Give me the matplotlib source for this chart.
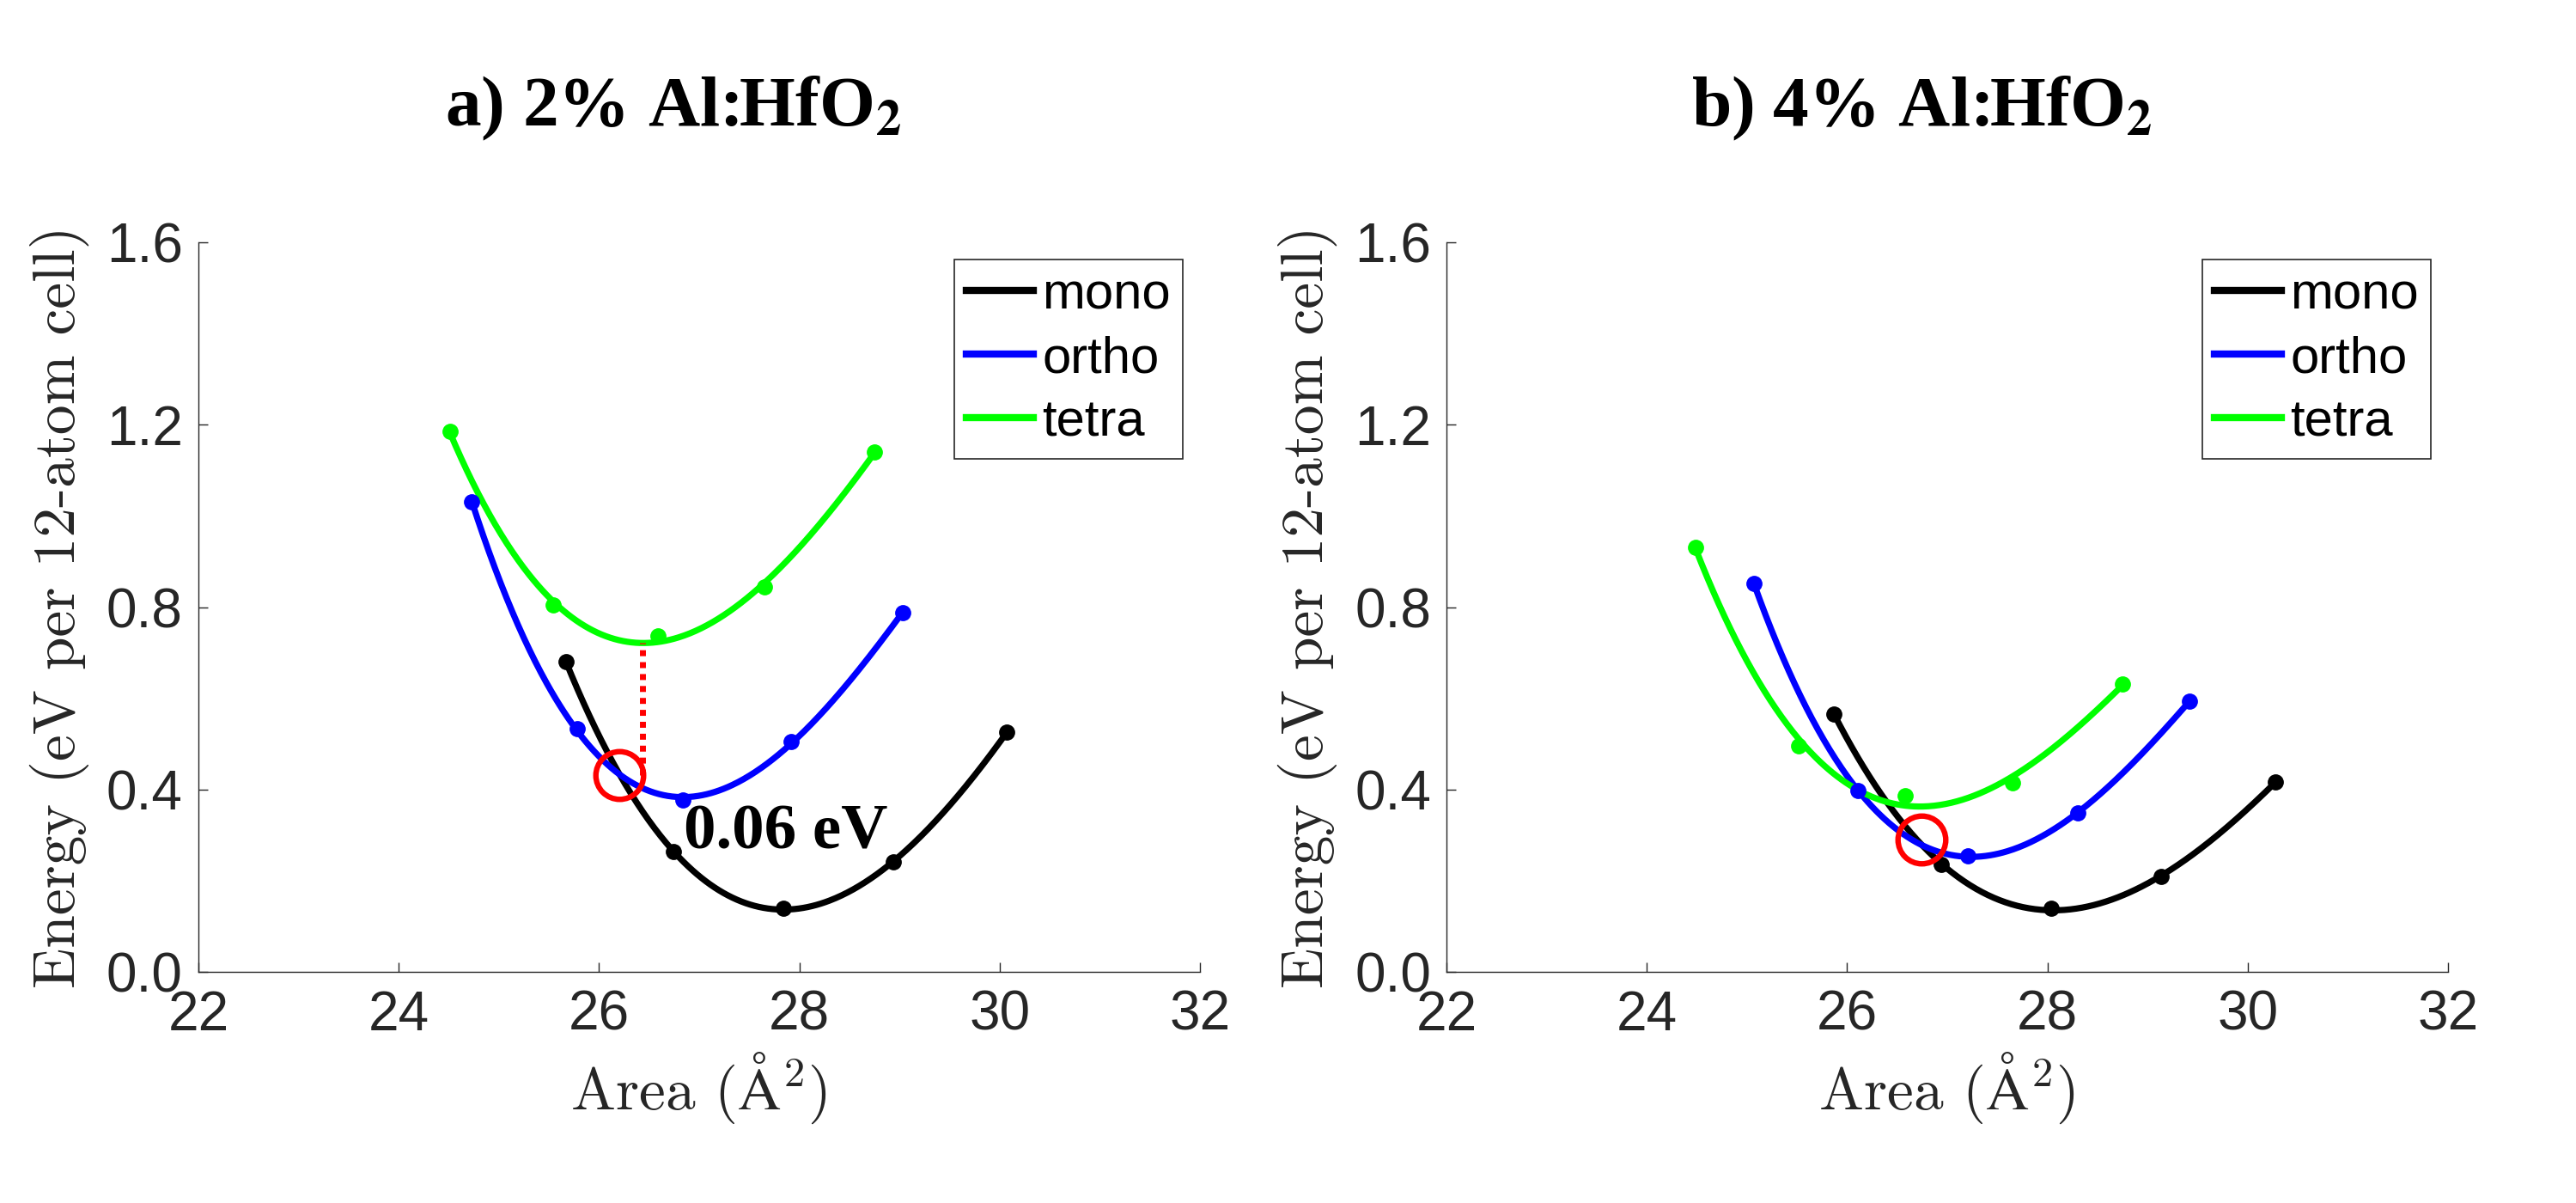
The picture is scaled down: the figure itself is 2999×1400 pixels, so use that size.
import numpy as np
import matplotlib
matplotlib.use('Agg')
import matplotlib.pyplot as plt
from matplotlib.lines import Line2D

plt.rcParams['font.family'] = ['Liberation Sans', 'DejaVu Sans']

# panel a) 2% Al:HfO2 -- area (A^2) and energy (eV per 12-atom cell)
mono_x_a = [25.67, 26.74, 27.84, 28.94, 30.07]
mono_e_a = [0.681, 0.264, 0.139, 0.241, 0.525]
ortho_x_a = [24.73, 25.78, 26.84, 27.92, 29.03]
ortho_e_a = [1.031, 0.534, 0.377, 0.505, 0.787]
tetra_x_a = [24.51, 25.54, 26.59, 27.65, 28.75]
tetra_e_a = [1.186, 0.804, 0.737, 0.844, 1.140]

# panel b) 4% Al:HfO2
mono_x_b = [25.87, 26.94, 28.04, 29.14, 30.28]
mono_e_b = [0.566, 0.235, 0.139, 0.209, 0.417]
ortho_x_b = [25.07, 26.11, 27.21, 28.30, 29.42]
ortho_e_b = [0.852, 0.397, 0.254, 0.348, 0.594]
tetra_x_b = [24.49, 25.52, 26.58, 27.65, 28.75]
tetra_e_b = [0.931, 0.495, 0.387, 0.414, 0.632]

# mono/ortho crossing points (red circles)
cross_a = (26.2, 0.432)
cross_b = (26.74, 0.29)

gap_label = '0.06 eV'
gap_pos = (26.85, 0.305)

titles = [r'a) 2% Al:HfO$_\mathbf{2}$', r'b) 4% Al:HfO$_\mathbf{2}$']
names = ['mono', 'ortho', 'tetra']
colors = ['black', (0, 0, 1), (0, 1, 0)]

gray = '#262626'

fig = plt.figure(figsize=(29.99, 14), dpi=100)
ax_a = fig.add_axes([0.0770, 0.1921, 0.3888, 0.6064])
ax_b = fig.add_axes([0.5615, 0.1921, 0.3888, 0.6064])

panels = [
    (ax_a, [(mono_x_a, mono_e_a), (ortho_x_a, ortho_e_a), (tetra_x_a, tetra_e_a)], cross_a, titles[0]),
    (ax_b, [(mono_x_b, mono_e_b), (ortho_x_b, ortho_e_b), (tetra_x_b, tetra_e_b)], cross_b, titles[1]),
]

for ax, series, cross, title in panels:
    fits = []
    for (x, e), c in zip(series, colors):
        p = np.polyfit(x, e, 3)
        xs = np.linspace(min(x), max(x), 300)
        fits.append((xs, np.polyval(p, xs)))
        ax.plot(xs, np.polyval(p, xs), color=c, lw=5.2, zorder=3, solid_capstyle='round')
        ax.plot(x, e, 'o', color=c, ms=12.5, zorder=4)

    ax.plot([cross[0]], [cross[1]], 'o', mfc='none', mec='red', mew=4.6, ms=40, zorder=6)

    ax.set_xlim(22, 32)
    ax.set_ylim(0, 1.6)
    ax.set_xticks(np.arange(22, 33, 2))
    ax.set_yticks(np.arange(0, 1.61, 0.4))
    ax.set_yticklabels(['%.1f' % v for v in np.arange(0, 1.61, 0.4)])
    ax.tick_params(direction='in', length=8, width=1.0, colors=gray, labelsize=46)
    ax.tick_params(axis='y', pad=13)
    ax.tick_params(axis='x', pad=15)
    for s in ['top', 'right']:
        ax.spines[s].set_visible(False)
    for s in ['left', 'bottom']:
        ax.spines[s].set_color(gray)
        ax.spines[s].set_linewidth(1.0)

    ax.set_ylabel('Energy (eV per 12-atom cell)', family='cmr10', fontsize=50, color=gray, labelpad=14)
    ax.set_xlabel(r'Area ($\mathrm{\AA}^2$)', family='cmr10',
                  math_fontfamily='cm', fontsize=50, color=gray, labelpad=8)

    ax.text(0.474, 1.16, title, transform=ax.transAxes, ha='center', va='baseline',
            family='Liberation Serif', weight='bold', fontsize=60, math_fontfamily='stix')

    handles = [Line2D([0], [0], color=c, lw=6) for c in colors]
    leg = ax.legend(handles, names, loc='upper right', fontsize=43, fancybox=False,
                    edgecolor=gray, framealpha=1, handlelength=1.3, handletextpad=0.18,
                    labelspacing=0.32, borderaxespad=0.33, borderpad=0.24)
    leg.get_frame().set_linewidth(1.2)

    if ax is ax_a:
        xs_t, ys_t = fits[2]
        i = np.argmin(ys_t)
        ax.plot([xs_t[i], xs_t[i]], [cross[1], ys_t[i]], color='red', ls=(0, (1, 1)), lw=5, zorder=5)
        ax.text(gap_pos[0], gap_pos[1], gap_label, family='Liberation Serif', weight='bold',
                fontsize=54, va='center', ha='left', zorder=7)

plt.savefig('out.png', dpi=100)
